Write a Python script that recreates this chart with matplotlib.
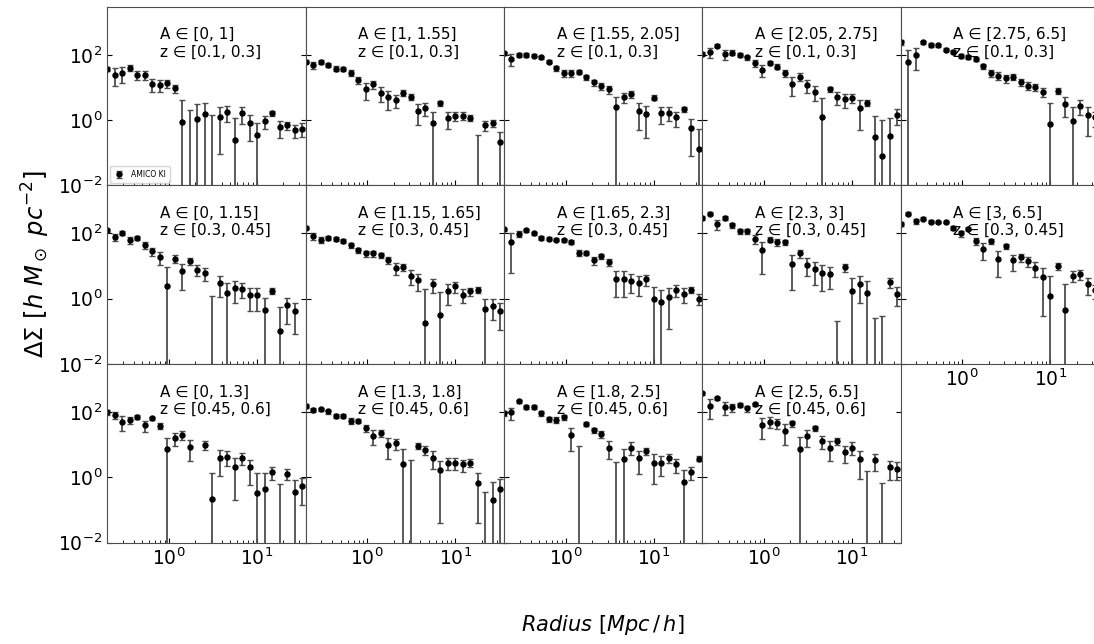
import numpy as np
import matplotlib
matplotlib.use("Agg")
import matplotlib.pyplot as plt
from matplotlib.ticker import NullLocator

nan = np.nan

# Radial bin centres [Mpc/h]
radius = [0.200, 0.243, 0.296, 0.360, 0.438, 0.532, 0.647, 0.787, 0.957,
          1.164, 1.416, 1.722, 2.095, 2.548, 3.099, 3.769, 4.583, 5.574,
          6.779, 8.245, 10.03, 12.20, 14.83, 18.04, 21.94, 26.68, 32.45]

z_bins = ["[0.1, 0.3]", "[0.3, 0.45]", "[0.45, 0.6]"]
a_bins = [
    ["[0, 1]", "[1, 1.55]", "[1.55, 2.05]", "[2.05, 2.75]", "[2.75, 6.5]"],
    ["[0, 1.15]", "[1.15, 1.65]", "[1.65, 2.3]", "[2.3, 3]", "[3, 6.5]"],
    ["[0, 1.3]", "[1.3, 1.8]", "[1.8, 2.5]", "[2.5, 6.5]"],
]

# Excess surface density profiles and their uncertainties, z in [0.1, 0.3]
ds_z1_a1 = [36, 24.8, 28.6, 40.7, 24.8, 24.8, 12.8, 12.2, 13.4, 9.4, 0.89, -1.0, 1.05, 1.49,
            -0.7, 1.27, 1.8, 0.24, 1.68, 0.83, 0.345, 0.93, 1.6, 0.62, 0.70, 0.49, 0.55]
er_z1_a1 = [5, 14, 15, 8, 8, 8, 5.5, 5, 3.6, 2.5, 3.2, 3.0, 2.05, 1.8,
            2.13, 1.18, 0.9, 0.88, 0.9, 0.6, 0.49, 0.4, 0.3, 0.33, 0.19, 0.21, 0.24]
ds_z1_a2 = [62, 49.4, 61, 49.4, 38, 37, 28.6, 17, 9.0, 12.5, 6.9, 5.0, 4.1, 6.9,
            5.2, 1.89, 2.29, 0.83, 3.26, 1.12, 1.36, 1.36, 1.18, -0.35, 0.70, 0.83, 0.206]
er_z1_a2 = [6, 13, 8, 8, 7, 6, 6, 4.5, 5, 3.7, 3.2, 3, 1.8, 1.5,
            1.1, 1.2, 1.0, 1.0, 0.6, 0.6, 0.45, 0.35, 0.25, 0.7, 0.25, 0.2, 0.23]
ds_z1_a3 = [112, 74, 100, 100, 95, 85, 62, 39, 27.3, 27.3, 30.7, 20.5, 14.4, 11.1,
            8.8, 2.5, 5.0, 6.2, 1.89, 1.49, 4.9, 1.6, 1.68, 1.2, 2.13, 0.58, 0.128]
er_z1_a3 = [10, 30, 15, 12, 10, 8, 7, 6, 7, 6, 4, 4, 3, 2.5,
            2.3, 2.6, 1.6, 1.6, 1.4, 1.2, 0.9, 0.85, 0.75, 0.6, 0.4, 0.5, 0.42]
ds_z1_a4 = [105, 120, 190, 107, 118, 100, 83, 55.6, 34.6, 58, 43.7, 27.3, 12.8, 21.5,
            11.9, 7.4, 1.2, 8.8, 5.0, 4.3, 4.9, 2.28, 3.4, 0.31, 0.08, 0.33, 1.43]
er_z1_a4 = [15, 40, 20, 38, 20, 15, 12, 12, 13, 8, 8, 6, 7.5, 5.5,
            5, 3.6, 3.4, 1.3, 2.2, 1.9, 1.6, 1.8, 0.7, 1.0, 0.9, 0.8, 0.7]
ds_z1_a5 = [240, 62, 100, 240, 199, 199, 142, 126, 93, 85, 74, 45.8, 27.3, 23.1,
            19.1, 21.5, 14.8, 11.4, 10.1, 7.3, 0.75, 8.0, 3.1, 0.95, 2.76, 1.43, 1.2]
er_z1_a5 = [40, 80, 65, 30, 25, 20, 15, 15, 15, 12, 10, 8, 6, 6,
            5, 4, 4, 3, 2.5, 2.3, 2.5, 1.5, 1.9, 1.6, 1.3, 1.1, 0.6]

# z in [0.3, 0.45]
ds_z2_a1 = [126, 77, 105, 61, 74, 43.7, 28.6, 19.1, 2.4, 16.6, 6.9, 14.1, 7.8, 6.2,
            -0.6, 3.0, 1.49, 2.13, 2.03, 1.27, 1.27, 0.46, 1.76, 0.1, 0.62, 0.41, nan]
er_z2_a1 = [15, 20, 15, 15, 12, 10, 8, 8, 7, 4.5, 5, 3.5, 3, 2.6,
            1.84, 1.9, 1.5, 1.4, 1.0, 0.85, 0.85, 0.6, 0.35, 0.45, 0.45, 0.33, nan]
ds_z2_a2 = [149, 83, 65, 74, 69, 58, 43.7, 30.7, 24.3, 24.3, 21.5, 15.1, 8.8, 9.4,
            5.1, 3.67, 0.18, 2.83, 0.32, 1.76, 2.4, 1.33, 1.68, 1.89, 0.49, 0.61, 0.41]
er_z2_a2 = [15, 20, 15, 12, 10, 8, 7, 6, 5, 5, 4, 3.5, 3.5, 2.5,
            2.5, 1.9, 1.8, 1.3, 1.25, 1.1, 0.9, 0.6, 0.5, 0.4, 0.5, 0.39, 0.3]
ds_z2_a3 = [133, 54, 98, 126, 100, 74, 69, 65, 61, 55, 25.4, 25.4, 15.1, 20,
            13.1, 4.0, 4.0, 3.6, 3.0, 4.0, 0.98, 0.77, 1.12, 1.89, 1.43, 1.89, 1.0]
er_z2_a3 = [15, 48, 20, 15, 12, 10, 8, 8, 7, 6, 5, 4, 4, 3.5,
            3, 2.9, 2.9, 2.1, 1.8, 1.5, 1.3, 1.1, 1.0, 0.8, 0.7, 0.4, 0.35]
ds_z2_a4 = [302, 400, 190, 302, 178, 118, 118, 69, 30.7, 65, 54, 55, 11.9, 24.3,
            11.1, 8.2, 6.2, 5.7, -0.1, 9.2, 1.68, 2.83, 1.5, -0.12, -0.15, 3.2, 1.43]
er_z2_a4 = [40, 40, 60, 50, 30, 20, 20, 22, 25, 12, 12, 10, 10, 7,
            6, 5.5, 4.5, 3.7, 0.3, 2.5, 2.6, 2.1, 1.9, 0.37, 0.45, 1.1, 0.85]
ds_z2_a5 = [199, 400, 240, 282, 229, 229, 229, 149, 100, 139, 58, 33.8, 58, 16.6,
            40.7, 14.8, 18.7, 14.1, 8.8, 4.5, 1.18, 9.9, 0.46, 5.1, 5.7, 2.83, 1.8]
er_z2_a5 = [30, 40, 40, 30, 25, 20, 20, 20, 20, 15, 15, 18, 10, 12,
            8, 7.5, 5, 5, 4.3, 4.2, 3.7, 2.5, 2.4, 1.8, 2.0, 1.5, 0.8]

# z in [0.45, 0.6]
ds_z3_a1 = [98, 83, 50.6, 58, 72, 39.8, 65, 38, 7.3, 15.9, 19.6, 8.6, nan, 9.7,
            0.22, 3.9, 4.2, 2.0, 3.9, 2.0, 0.32, 0.43, 1.49, -0.3, 1.3, 0.36, 0.54]
er_z3_a1 = [15, 20, 25, 15, 12, 15, 8, 8, 8.6, 7, 6, 5.5, nan, 3,
            1.14, 2.8, 2.0, 1.8, 1.5, 1.4, 1.0, 0.9, 0.65, 0.91, 0.45, 0.45, 0.4]
ds_z3_a2 = [157, 118, 123, 105, 77, 77, 54, 54, 32, 18.7, 22.6, 9.7, 11.1, 2.63,
            -1.7, 9.2, 6.9, 4.0, 1.64, 2.83, 2.83, 2.5, 2.83, 0.69, -0.17, 0.2, 0.43]
er_z3_a2 = [20, 20, 15, 15, 12, 10, 10, 8, 8, 9, 5, 6, 4, 4.6,
            5.1, 2, 2, 2.2, 1.6, 1.2, 1.1, 1.0, 0.8, 0.65, 0.52, 0.5, 0.44]
ds_z3_a3 = [91, 98, 213, 145, 145, 93, 61, 56.8, 69, 19.6, -4.6, 42.7, 28.6, 21,
            8.2, -1.5, 3.6, 8.2, 3.85, 6.5, 2.83, 2.83, 3.85, 2.5, 0.74, 1.49, 3.76]
er_z3_a3 = [15, 40, 25, 20, 20, 15, 12, 12, 10, 13, 13.8, 6, 5, 5,
            4.5, 4.46, 3.6, 3.5, 2.6, 1.7, 2.2, 1.7, 1.2, 1.1, 0.95, 0.65, 0.6]
ds_z3_a4 = [375, 157, 263, 139, 139, 164, 129, 176, 40.7, 50.6, 45.8, 26.7, 44.7, 7.3,
            18.7, 32.2, 13.1, 8.2, 13.1, 6.0, 8.2, 3.6, -0.8, 3.33, -0.35, 2.0, 1.85]
er_z3_a4 = [40, 95, 30, 60, 35, 25, 25, 20, 26, 18, 15, 17, 10, 10.5,
            10, 6, 5.5, 5, 3, 3.3, 3.5, 2.7, 2.37, 1.8, 1.04, 1.2, 1.0]

profiles = [
    [(ds_z1_a1, er_z1_a1), (ds_z1_a2, er_z1_a2), (ds_z1_a3, er_z1_a3),
     (ds_z1_a4, er_z1_a4), (ds_z1_a5, er_z1_a5)],
    [(ds_z2_a1, er_z2_a1), (ds_z2_a2, er_z2_a2), (ds_z2_a3, er_z2_a3),
     (ds_z2_a4, er_z2_a4), (ds_z2_a5, er_z2_a5)],
    [(ds_z3_a1, er_z3_a1), (ds_z3_a2, er_z3_a2), (ds_z3_a3, er_z3_a3),
     (ds_z3_a4, er_z3_a4)],
]

fig = plt.figure(figsize=(10.94, 6.44), dpi=100)

left0, width = 0.0981, 0.1813
height = 0.2773
bottoms = [0.7123, 0.4350, 0.1576]

for r in range(3):
    for c in range(len(profiles[r])):
        ax = fig.add_axes([left0 + c * width, bottoms[r], width, height])
        ds, er = profiles[r][c]
        ax.set_xscale("log")
        ax.set_yscale("log")
        ax.errorbar(radius, ds, yerr=er, fmt="o", color="k", ms=3.6,
                    ecolor="0.3", elinewidth=1.3, capsize=2, capthick=1,
                    label="AMICO KI")
        ax.set_xlim(0.2, 35.7)
        ax.set_ylim(1e-2, 3e3)
        ax.set_yticks([1e-2, 1, 1e2])
        ax.yaxis.set_minor_locator(NullLocator())
        ax.tick_params(which="both", direction="in", right=True, top=False,
                       labelsize=13.5)
        ax.tick_params(which="minor", length=2.5)
        for s in ax.spines.values():
            s.set_color("0.3")
        show_x = (r == 2) or (r == 1 and c == 4)
        if not show_x:
            ax.tick_params(labelbottom=False)
        if c != 0:
            ax.tick_params(labelleft=False)
        ax.text(0.265, 0.885, f"A \u2208 {a_bins[r][c]}\nz \u2208 {z_bins[r]}",
                transform=ax.transAxes, ha="left", va="top", fontsize=11,
                linespacing=1.2)
        if r == 0 and c == 0:
            ax.legend(loc="lower left", fontsize=5.5, borderpad=0.5,
                      handlelength=1.5, borderaxespad=0.3)

fig.text(0.551, 0.03, r"$Radius\ [Mpc\,/\,h]$", ha="center", va="center",
         fontsize=15)
fig.text(0.033, 0.59, r"$\Delta\Sigma\ [h\ M_\odot\ pc^{-2}]$", ha="center",
         va="center", rotation=90, fontsize=17.5)

fig.savefig("out.png", dpi=100)
